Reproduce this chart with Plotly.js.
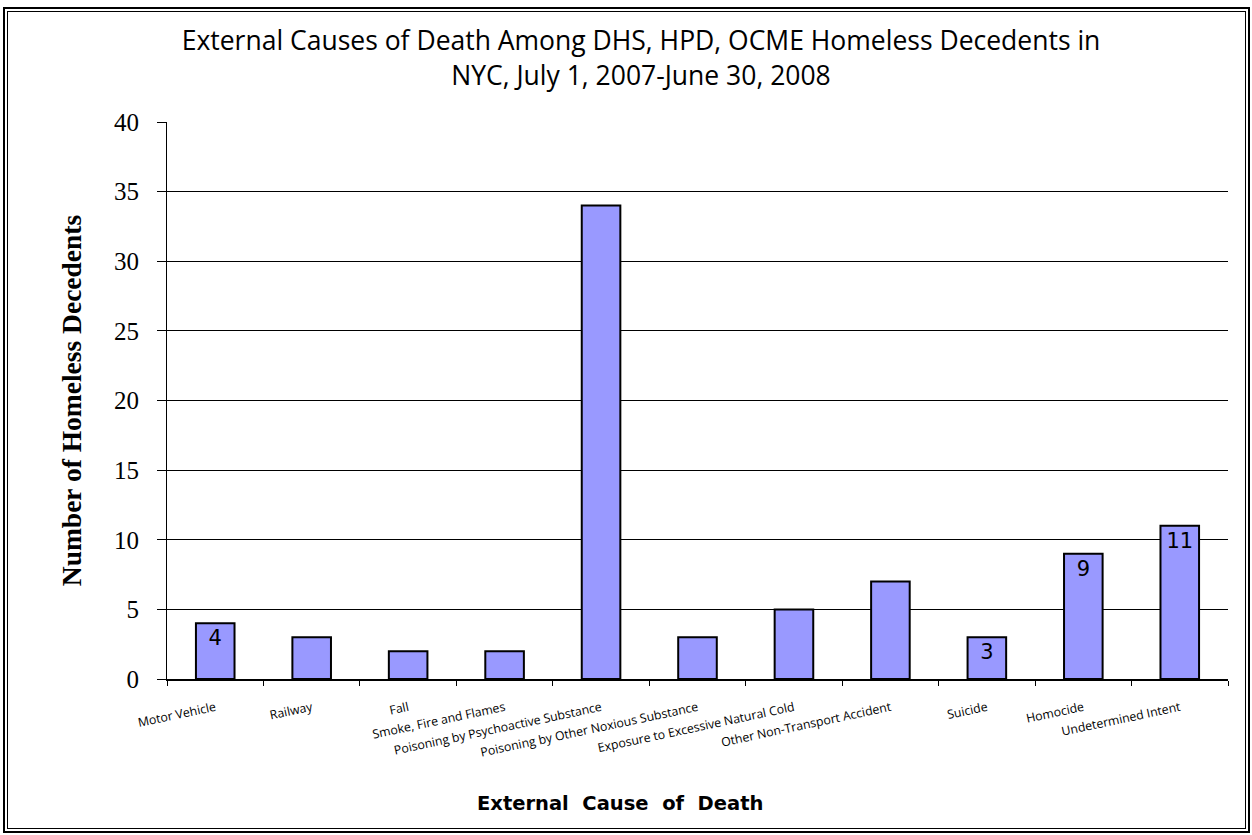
<!DOCTYPE html>
<html>
<head>
<meta charset="utf-8">
<script src="https://cdn.plot.ly/plotly-3.0.1.min.js"></script>
<style>
html,body{margin:0;padding:0;background:#fff;}
#wrap{position:relative;width:1252px;height:835px;}
#chart{position:absolute;left:0;top:0;width:1252px;height:835px;}
#outer{position:absolute;left:3px;top:7px;width:1243px;height:822px;border:2px solid #000;pointer-events:none;}
#inner{position:absolute;left:7px;top:11px;width:1237px;height:816px;border:1px solid #000;pointer-events:none;}
</style>
</head>
<body>
<div id="wrap">
<div id="chart"></div>
<div id="outer"></div>
<div id="inner"></div>
</div>
<script>
const categories = ["Motor Vehicle","Railway","Fall","Smoke, Fire and Flames","Poisoning by Psychoactive Substance","Poisoning by Other Noxious Substance","Exposure to Excessive Natural Cold","Other Non-Transport Accident","Suicide","Homocide","Undetermined Intent"];
const values = [4,3,2,2,34,3,5,7,3,9,11];
const labels = ["4","","","","","","","","3","9","11"];
const yTicks = [0,5,10,15,20,25,30,35,40];

const trace = {
  type: "bar",
  x: categories,
  y: values,
  text: labels,
  textposition: "inside",
  insidetextanchor: "end",
  textfont: {family: "'DejaVu Sans', sans-serif", size: 21, color: "#000"},
  marker: {color: "#9999FF", line: {color: "#000", width: 2}},
  hoverinfo: "x+y"
};

const layout = {
  width: 1252, height: 835,
  margin: {l: 167, r: 24, t: 122, b: 156},
  paper_bgcolor: "#fff", plot_bgcolor: "#fff",
  bargap: 0.6,
  showlegend: false,
  font: {family: "Lato, 'Open Sans', sans-serif", color: "#000"},
  title: {
    text: "External Causes of Death Among DHS, HPD, OCME Homeless Decedents in<br>NYC, July 1, 2007-June 30, 2008",
    font: {family: "'Open Sans', Lato, sans-serif", size: 26.5, color: "#000"},
    x: 0.512, xanchor: "center", y: 0.94, yanchor: "top"
  },
  xaxis: {
    type: "category",
    tickangle: -12,
    tickfont: {family: "'Open Sans', Lato, sans-serif", size: 12.3, color: "#000"},
    ticks: "outside", ticklen: 5, tickcolor: "#000", tickwidth: 1,
    tickson: "boundaries",
    ticklabelstandoff: 15,
    showline: true, linecolor: "#000", linewidth: 2,
    showgrid: false
  },
  yaxis: {
    range: [0, 40],
    tickvals: yTicks,
    tickfont: {family: "'Liberation Serif', serif", size: 25, color: "#000"},
    ticks: "outside", ticklen: 9, tickcolor: "#000",
    ticklabelstandoff: 13,
    showline: true, linecolor: "#000", linewidth: 1,
    showgrid: true, gridcolor: "#000", gridwidth: 1,
    zeroline: false,
    title: {text: "<b>Number of Homeless Decedents</b>", font: {family: "'Liberation Serif', serif", size: 27.5, color: "#000"}, standoff: 24}
  },
  annotations: [{
    text: "<b>External  Cause  of  Death</b>",
    xref: "paper", yref: "paper",
    x: 0.427, y: -0.224, xanchor: "center", yanchor: "middle",
    showarrow: false,
    font: {family: "'DejaVu Sans', sans-serif", size: 19.5, color: "#000"}
  }]
};

Plotly.newPlot("chart", [trace], layout, {displayModeBar: false, staticPlot: true});
</script>
</body>
</html>
